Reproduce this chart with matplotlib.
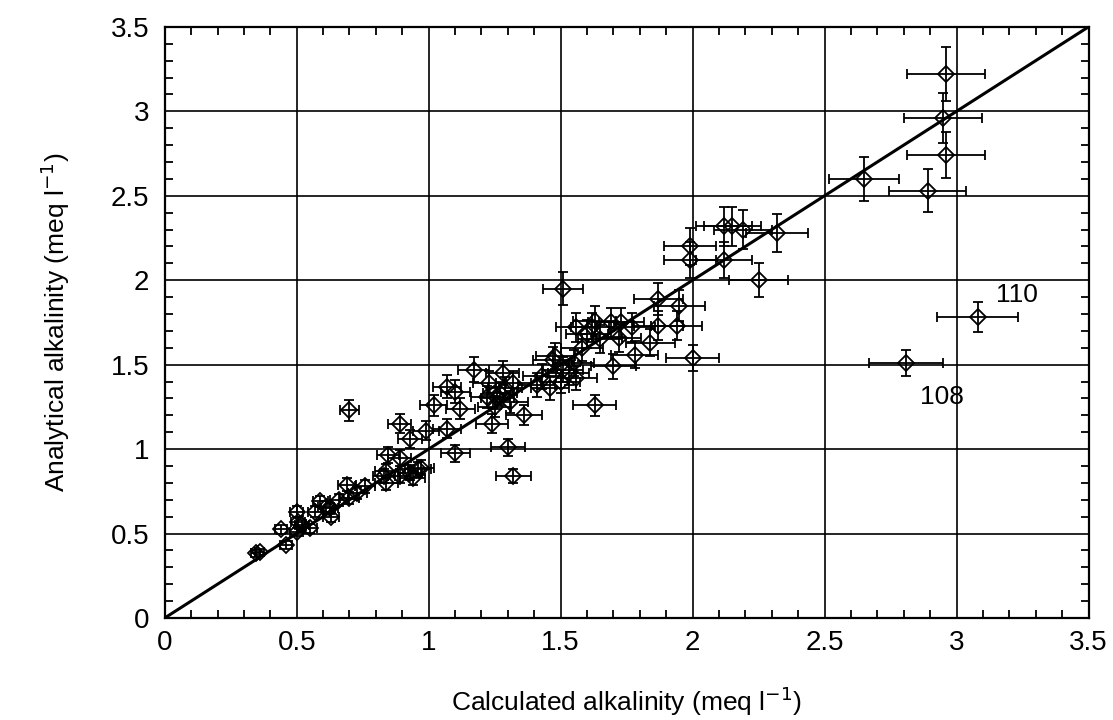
import matplotlib
matplotlib.use("Agg")
import matplotlib.pyplot as plt
import numpy as np
from matplotlib.ticker import MultipleLocator

plt.rcParams['font.family'] = ['Liberation Sans', 'DejaVu Sans']

# calculated (x) vs analytical (y) alkalinity, meq/l
calc = [0.345, 0.36, 0.44, 0.46, 0.50, 0.505, 0.50, 0.55, 0.57, 0.59,
        0.63, 0.625, 0.66, 0.69, 0.70, 0.70, 0.73, 0.76, 0.84, 0.84,
        0.83, 0.846, 0.89, 0.89, 0.93, 0.94, 0.97, 0.89, 0.93, 0.99,
        1.02, 1.07, 1.07, 1.10, 1.10, 1.12, 1.17, 1.23, 1.28, 1.22,
        1.27, 1.32, 1.25, 1.31, 1.24, 1.30, 1.32, 1.36, 1.41, 1.46,
        1.47, 1.51, 1.55, 1.48, 1.43, 1.50, 1.53, 1.56, 1.51, 1.56,
        1.62, 1.63, 1.69, 1.73, 1.77, 1.65, 1.72, 1.63, 1.70, 1.78,
        1.84, 1.87, 1.94, 1.87, 1.95, 2.00, 1.99, 1.99, 2.12, 2.12,
        2.15, 2.19, 2.25, 2.32, 2.65, 2.89, 2.96, 2.95, 2.96, 2.81,
        3.08, 1.58, 1.60, 1.29, 0.52, 0.61, 0.96, 1.26]
anal = [0.383, 0.39, 0.525, 0.432, 0.63, 0.57, 0.51, 0.53, 0.63, 0.69,
        0.60, 0.65, 0.70, 0.79, 0.71, 1.23, 0.74, 0.78, 0.87, 0.80,
        0.84, 0.965, 0.95, 0.84, 0.86, 0.83, 0.89, 1.15, 1.06, 1.11,
        1.26, 1.37, 1.12, 1.34, 0.975, 1.24, 1.47, 1.39, 1.45, 1.31,
        1.33, 1.39, 1.25, 1.28, 1.15, 1.01, 0.84, 1.20, 1.38, 1.36,
        1.53, 1.47, 1.51, 1.55, 1.43, 1.40, 1.45, 1.42, 1.95, 1.72,
        1.72, 1.76, 1.75, 1.75, 1.72, 1.65, 1.66, 1.26, 1.49, 1.56,
        1.63, 1.73, 1.73, 1.89, 1.85, 1.54, 2.20, 2.12, 2.12, 2.32,
        2.32, 2.30, 2.00, 2.28, 2.60, 2.53, 2.74, 2.96, 3.22, 1.51,
        1.78, 1.60, 1.68, 1.36, 0.55, 0.66, 0.88, 1.30]
rel_err = 0.05  # relative uncertainty on both alkalinities

labels = ['110', '108']
label_x = [3.15, 2.86]
label_y = [1.84, 1.24]

x = np.array(calc)
y = np.array(anal)

fig = plt.figure(figsize=(11.13, 7.2), dpi=100)
ax = fig.add_axes([0.148, 0.1417, 0.830, 0.821])

ax.set_xlim(0, 3.5)
ax.set_ylim(0, 3.5)
ax.grid(True, which='major', color='black', linewidth=1.2)
ax.set_axisbelow(True)

ax.plot([0, 3.5], [0, 3.5], color='black', linewidth=2.2, zorder=3)

ax.errorbar(x, y, xerr=rel_err * x, yerr=rel_err * y, fmt='D',
            mfc='none', mec='black', mew=1.3, ms=8, ecolor='black',
            elinewidth=1.3, capsize=3.5, capthick=1.4, zorder=4)

for t, lx, ly in zip(labels, label_x, label_y):
    ax.text(lx, ly, t, fontsize=19, ha='left', va='bottom')

ax.xaxis.set_major_locator(MultipleLocator(0.5))
ax.yaxis.set_major_locator(MultipleLocator(0.5))
ax.xaxis.set_minor_locator(MultipleLocator(0.1))
ax.yaxis.set_minor_locator(MultipleLocator(0.1))
ax.tick_params(which='both', direction='in', top=True, right=True,
               width=1.3, labelsize=20)
ax.tick_params(which='major', length=0)
ax.tick_params(which='minor', length=6)
ax.tick_params(axis='y', pad=11)
ax.tick_params(axis='x', pad=9)
ax.xaxis.set_major_formatter(plt.FuncFormatter(lambda v, p: f'{v:g}'))
ax.yaxis.set_major_formatter(plt.FuncFormatter(lambda v, p: f'{v:g}'))
for s in ax.spines.values():
    s.set_linewidth(1.6)

ax.set_xlabel('Calculated alkalinity (meq l$^{-1}$)', fontsize=19, labelpad=20)
ax.set_ylabel('Analytical alkalinity (meq l$^{-1}$)', fontsize=19, labelpad=28)

fig.savefig('out.png', dpi=100)
